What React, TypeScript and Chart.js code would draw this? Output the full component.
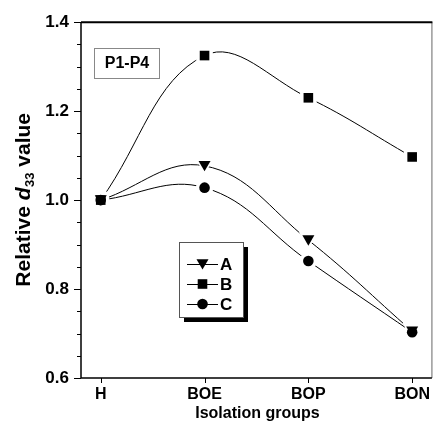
import React, { useEffect, useRef } from 'react';
import { Chart, registerables } from 'chart.js';
Chart.register(...registerables);

const categories = ['H', 'BOE', 'BOP', 'BON'];
const seriesNames = ['A', 'B', 'C'];
const seriesA = [1.0, 1.077, 0.91, 0.705];
const seriesB = [1.0, 1.325, 1.23, 1.097];
const seriesC = [1.0, 1.028, 0.863, 0.703];
const markerShapes = ['triDown', 'square', 'circle'];
const yMin = 0.6;
const yMax = 1.4;
const yMajorStep = 0.2;
const yMinorStep = 0.05;
const boxLabel = 'P1-P4';
const xTitle = 'Isolation groups';

const FONT = '"Liberation Sans", Arial, Helvetica, sans-serif';

function drawShape(ctx: CanvasRenderingContext2D, shape: string, x: number, y: number, grow: number) {
  ctx.beginPath();
  if (shape === 'square') {
    const h = 4.8 + grow;
    ctx.rect(x - h, y - h, 2 * h, 2 * h);
  } else if (shape === 'circle') {
    ctx.arc(x, y, 5.3 + grow, 0, Math.PI * 2);
  } else {
    const hw = 6 + grow;
    const top = y - 4.8 - grow;
    const bot = y + 5.5 + grow;
    ctx.moveTo(x - hw, top);
    ctx.lineTo(x + hw, top);
    ctx.lineTo(x, bot);
    ctx.closePath();
  }
}

const markerPlugin = {
  id: 'markers',
  afterDatasetsDraw(chart: any) {
    const ctx = chart.ctx;
    ctx.save();
    chart.data.datasets.forEach((ds: any, i: number) => {
      const meta = chart.getDatasetMeta(i);
      meta.data.forEach((pt: any) => {
        drawShape(ctx, markerShapes[i], pt.x, pt.y, 3.5);
        ctx.fillStyle = '#ffffff';
        ctx.fill();
      });
    });
    chart.data.datasets.forEach((ds: any, i: number) => {
      const meta = chart.getDatasetMeta(i);
      meta.data.forEach((pt: any) => {
        drawShape(ctx, markerShapes[i], pt.x, pt.y, 0);
        ctx.fillStyle = '#000000';
        ctx.fill();
      });
    });
    ctx.restore();
  },
};

const decorPlugin = {
  id: 'decor',
  afterDraw(chart: any) {
    const ctx: CanvasRenderingContext2D = chart.ctx;
    const a = chart.chartArea;
    const ys = chart.scales.y;
    const xs = chart.scales.x;
    ctx.save();
    // frame
    ctx.strokeStyle = '#999999';
    ctx.lineWidth = 1.5;
    ctx.beginPath();
    ctx.moveTo(a.right, a.top);
    ctx.lineTo(a.right, a.bottom);
    ctx.stroke();
    ctx.strokeStyle = '#000000';
    ctx.lineWidth = 2;
    ctx.beginPath();
    ctx.moveTo(a.left, a.top);
    ctx.lineTo(a.right + 0.5, a.top);
    ctx.stroke();
    ctx.lineWidth = 1.5;
    ctx.beginPath();
    ctx.moveTo(a.left, a.top);
    ctx.lineTo(a.left, a.bottom);
    ctx.lineTo(a.right, a.bottom);
    ctx.stroke();
    // y ticks
    ctx.lineWidth = 1;
    const n = Math.round((yMax - yMin) / yMinorStep);
    for (let k = 0; k <= n; k++) {
      const v = yMin + k * yMinorStep;
      const py = Math.round(ys.getPixelForValue(v)) + 0.5;
      const isMajor = Math.abs(v / yMajorStep - Math.round(v / yMajorStep)) < 1e-6;
      const len = isMajor ? 7 : 4;
      ctx.beginPath();
      ctx.moveTo(a.left - len, py);
      ctx.lineTo(a.left, py);
      ctx.stroke();
    }
    // x ticks
    categories.forEach((c, i) => {
      const px = Math.round(xs.getPixelForValue(i)) + 0.5;
      ctx.beginPath();
      ctx.moveTo(px, a.bottom);
      ctx.lineTo(px, a.bottom + 5);
      ctx.stroke();
    });
    // x title
    ctx.fillStyle = '#000';
    ctx.font = 'bold 16px ' + FONT;
    ctx.textAlign = 'center';
    ctx.textBaseline = 'middle';
    ctx.fillText(xTitle, (a.left + a.right) / 2 + 1, 414);
    // y title
    ctx.save();
    ctx.translate(22, (a.top + a.bottom) / 2);
    ctx.rotate(-Math.PI / 2);
    ctx.textBaseline = 'alphabetic';
    ctx.textAlign = 'left';
    const p1 = 'Relative ';
    const p2 = 'd';
    const p3 = '33';
    const p4 = ' value';
    const f1 = 'bold 21px ' + FONT;
    const f2 = 'italic bold 21px ' + FONT;
    const f3 = 'bold 13px ' + FONT;
    ctx.font = f1;
    const w1 = ctx.measureText(p1).width;
    const w4 = ctx.measureText(p4).width;
    ctx.font = f2;
    const w2 = ctx.measureText(p2).width;
    ctx.font = f3;
    const w3 = ctx.measureText(p3).width;
    const total = w1 + w2 + w3 + w4;
    let cx = -total / 2;
    const base = 8;
    ctx.font = f1;
    ctx.fillText(p1, cx, base);
    cx += w1;
    ctx.font = f2;
    ctx.fillText(p2, cx, base);
    cx += w2 + 0.5;
    ctx.font = f3;
    ctx.fillText(p3, cx, base + 4);
    cx += w3;
    ctx.font = f1;
    ctx.fillText(p4, cx, base);
    ctx.restore();
    // P1-P4 box
    ctx.strokeStyle = '#888888';
    ctx.lineWidth = 1;
    ctx.strokeRect(94.5, 48.5, 65, 30);
    ctx.fillStyle = '#000';
    ctx.font = 'bold 16px ' + FONT;
    ctx.textAlign = 'center';
    ctx.textBaseline = 'middle';
    ctx.fillText(boxLabel, 127, 64);
    // legend
    const lx = 179, ly = 242, lw = 64, lh = 75;
    ctx.fillStyle = '#000';
    ctx.fillRect(lx + 5, ly + 5, lw, lh);
    ctx.fillStyle = '#fff';
    ctx.fillRect(lx, ly, lw, lh);
    ctx.strokeStyle = '#555';
    ctx.lineWidth = 1;
    ctx.strokeRect(lx + 0.5, ly + 0.5, lw, lh);
    seriesNames.forEach((name, i) => {
      const ry = 264 + i * 20;
      ctx.strokeStyle = '#000';
      ctx.lineWidth = 1;
      ctx.beginPath();
      ctx.moveTo(187, ry + 0.5);
      ctx.lineTo(218, ry + 0.5);
      ctx.stroke();
      drawShape(ctx, markerShapes[i], 202.5, ry, 0);
      ctx.fillStyle = '#000';
      ctx.fill();
      ctx.font = 'bold 17px ' + FONT;
      ctx.textAlign = 'left';
      ctx.textBaseline = 'middle';
      ctx.fillText(name, 220, ry + 1);
    });
    ctx.restore();
  },
};

export default function App() {
  const ref = useRef<HTMLCanvasElement>(null);
  useEffect(() => {
    if (!ref.current) return;
    const all = [seriesA, seriesB, seriesC];
    const chart = new Chart(ref.current, {
      type: 'line',
      data: {
        datasets: all.map((s, i) => ({
          label: seriesNames[i],
          data: s.map((v, j) => ({ x: j, y: v })),
          borderColor: '#000',
          borderWidth: 1,
          pointRadius: 0,
          tension: 0.4,
          fill: false,
        })),
      },
      options: {
        animation: false,
        responsive: false,
        devicePixelRatio: 1,
        layout: { padding: { top: 22, right: 1, left: 0, bottom: 0 } },
        plugins: { legend: { display: false }, tooltip: { enabled: false } },
        scales: {
          x: {
            type: 'linear',
            min: -0.19,
            max: 3.19,
            grid: { display: false, drawTicks: false },
            border: { display: false },
            afterBuildTicks: (scale: any) => {
              scale.ticks = categories.map((_, i) => ({ value: i }));
            },
            afterFit: (scale: any) => {
              scale.height = 55;
            },
            ticks: {
              color: '#000',
              padding: 7,
              maxRotation: 0,
              autoSkip: false,
              font: { family: FONT, size: 16, weight: 'bold' },
              callback: (v: any) => categories[Math.round(Number(v))] ?? '',
            },
          },
          y: {
            min: yMin,
            max: yMax,
            grid: { display: false, drawTicks: false },
            border: { display: false },
            afterFit: (scale: any) => {
              scale.width = 81;
            },
            ticks: {
              stepSize: yMajorStep,
              color: '#000',
              padding: 12,
              font: { family: FONT, size: 17, weight: 'bold' },
              callback: (v: any) => Number(v).toFixed(1),
            },
          },
        },
      },
      plugins: [markerPlugin, decorPlugin],
    });
    return () => chart.destroy();
  }, []);
  return (
    <div style={{ position: 'absolute', left: 0, top: 0, width: 437, height: 433, background: '#fff' }}>
      <canvas ref={ref} width={437} height={433} />
    </div>
  );
}
